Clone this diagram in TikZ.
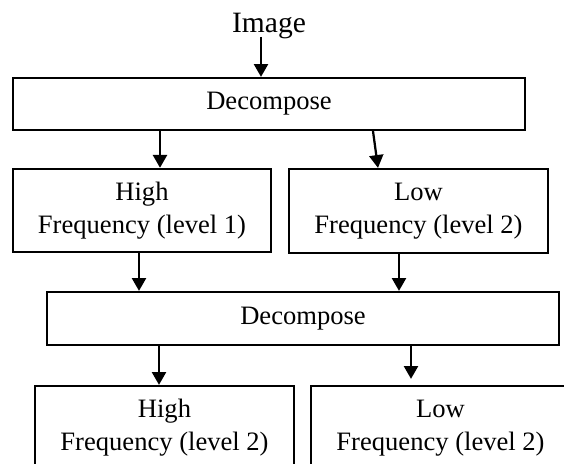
\documentclass[tikz,border=0pt]{standalone}
\usepackage{fontspec}
\setmainfont{Liberation Serif}
\usetikzlibrary{arrows.meta}

\begin{document}
\begin{tikzpicture}[
    box/.style={draw, line width=1.6pt, inner sep=0pt, align=center,
      font=\fontsize{18.9}{23.6}\selectfont},
    arr/.style={line width=1.6pt, -{Triangle[length=0.32cm,width=0.35cm]}}]
    \useasboundingbox (0,0) rectangle (14.1,11.6);
    \clip (0,0) rectangle (14.1,11.6);

    \node[anchor=base, font=\fontsize{21}{25}\selectfont] (img) at
    (6.725,10.775) {Image};

    \node[box, minimum width=12.8cm, minimum height=1.3cm] (dec1) at
    (6.725,9) {Decompose};

    \node[box, minimum width=6.45cm, minimum height=2.075cm] (high1) at
    (3.55,6.34) {High\\Frequency (level 1)};
    \node[box, minimum width=6.475cm, minimum height=2.1cm] (low1) at
    (10.4625,6.325) {Low\\Frequency (level 2)};

    \node[box, minimum width=12.8cm, minimum height=1.325cm] (dec2) at
    (7.575,3.6375) {Decompose};

    \node[box, minimum width=6.475cm, minimum height=2.1cm] (high2) at
    (4.1125,0.9) {High\\Frequency (level 2)};
    \node[box, minimum width=6.475cm, minimum height=2.1cm] (low2) at
    (11.0125,0.9) {Low\\Frequency (level 2)};

    \draw[arr] ([yshift=-0.1cm]6.525,0 |- img.base) -- (6.525,0 |- dec1.north);
    \draw[arr] (4,0 |- dec1.south) -- (4,0 |- high1.north);
    \draw[arr] (9.325,0 |- dec1.south) -- (9.45,0 |- low1.north);
    \draw[arr] (3.475,0 |- high1.south) -- (3.475,0 |- dec2.north);
    \draw[arr] (9.975,0 |- low1.south) -- (9.975,0 |- dec2.north);
    \draw[arr] (3.975,0 |- dec2.south) -- (3.975,0 |- high2.north);
    \draw[arr, shorten >=0.15cm] (10.275,0 |- dec2.south) -- (10.275,0 |-
    low2.north);
  \end{tikzpicture}
\end{document}
